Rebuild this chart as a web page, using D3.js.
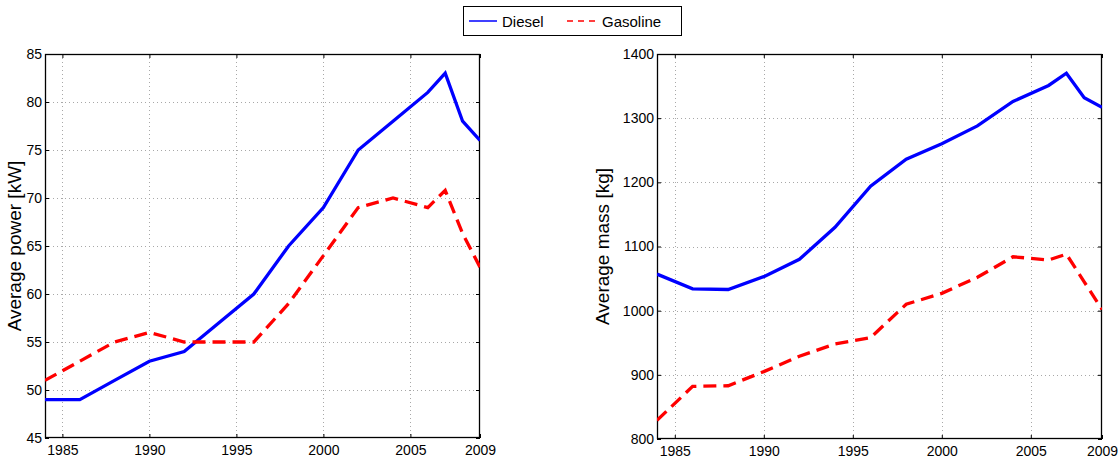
<!DOCTYPE html>
<html>
<head>
<meta charset="utf-8">
<script src="https://cdn.jsdelivr.net/npm/d3@7"></script>
<style>
  html, body { margin: 0; padding: 0; background: #fff; }
  svg { display: block; font-family: "Liberation Sans", Arial, Helvetica, sans-serif; }
</style>
</head>
<body>
<svg id="chart" width="1119" height="461"></svg>
<script>
// ---- data ----
const years = [1984, 1986, 1988, 1990, 1992, 1994, 1996, 1998, 2000, 2002, 2004, 2006, 2007, 2008, 2009];
const dieselPower   = [49, 49, 51, 53, 54, 57, 60, 65, 69, 75, 78, 81, 83, 78, 76];
const gasolinePower = [51, 53, 55, 56, 55, 55, 55, 59, 64, 69, 70, 69, 70.8, 66.3, 62.8];
const dieselMass    = [1057, 1034, 1033, 1053, 1080, 1130, 1194, 1236, 1260, 1288, 1326, 1351, 1370, 1332, 1317];
const gasolineMass  = [829, 882, 883, 905, 929, 948, 958, 1010, 1027, 1052, 1084, 1079, 1088, 1045, 1002];
const xTicks = [1985, 1990, 1995, 2000, 2005, 2009];
const powerTicks = [45, 50, 55, 60, 65, 70, 75, 80, 85];
const massTicks = [800, 900, 1000, 1100, 1200, 1300, 1400];
const seriesNames = ["Diesel", "Gasoline"];

const svg = d3.select("#chart");
const BLUE = "#0000ff", RED = "#ff0000";

function panel(id, left, right, top, bottom, yDomain, yTicks, dSeries, gSeries, label, labelX) {
  const x = d3.scaleLinear().domain([1984, 2009]).range([left, right]);
  const y = d3.scaleLinear().domain(yDomain).range([bottom, top]);
  const g = svg.append("g");

  svg.append("clipPath").attr("id", "clip" + id)
    .append("rect").attr("x", left).attr("y", top).attr("width", right - left).attr("height", bottom - top);

  // grid
  const grid = g.append("g").attr("stroke", "#a8a8a8").attr("stroke-width", 1).attr("stroke-dasharray", "1,3");
  xTicks.forEach(t => {
    if (t === 2009) return;
    grid.append("line").attr("x1", Math.round(x(t)) + 0.5).attr("x2", Math.round(x(t)) + 0.5)
      .attr("y1", top).attr("y2", bottom);
  });
  yTicks.forEach((t, i) => {
    if (i === 0 || i === yTicks.length - 1) return;
    grid.append("line").attr("y1", Math.round(y(t)) + 0.5).attr("y2", Math.round(y(t)) + 0.5)
      .attr("x1", left).attr("x2", right);
  });

  const fmt = d3.format("d");
  const axB = g.append("g").attr("transform", `translate(0,${bottom})`)
    .call(d3.axisBottom(x).tickValues(xTicks).tickFormat(fmt).tickSizeInner(-4).tickSizeOuter(0).tickPadding(7));
  const axT = g.append("g").attr("transform", `translate(0,${top})`)
    .call(d3.axisTop(x).tickValues(xTicks).tickFormat("").tickSizeInner(-4).tickSizeOuter(0));
  const axL = g.append("g").attr("transform", `translate(${left},0)`)
    .call(d3.axisLeft(y).tickValues(yTicks).tickFormat(fmt).tickSizeInner(-4).tickSizeOuter(0).tickPadding(3));
  const axR = g.append("g").attr("transform", `translate(${right},0)`)
    .call(d3.axisRight(y).tickValues(yTicks).tickFormat("").tickSizeInner(-4).tickSizeOuter(0));
  [axB, axT, axL, axR].forEach(a => {
    a.select(".domain").remove();
    a.selectAll("line").attr("stroke", "#000");
    a.selectAll("text").attr("font-size", 14).attr("fill", "#000")
      .attr("font-family", "'Liberation Sans', Arial, sans-serif");
  });

  // box
  g.append("rect").attr("x", left + 0.5).attr("y", top + 0.5)
    .attr("width", right - left - 1).attr("height", bottom - top - 1)
    .attr("fill", "none").attr("stroke", "#000").attr("stroke-width", 1.3);

  const line = d3.line().x((d, i) => x(years[i])).y(d => y(d));
  const lines = g.append("g").attr("clip-path", `url(#clip${id})`);
  lines.append("path").datum(dSeries).attr("d", line)
    .attr("fill", "none").attr("stroke", BLUE).attr("stroke-width", 3.3).attr("stroke-linejoin", "miter");
  lines.append("path").datum(gSeries).attr("d", line)
    .attr("fill", "none").attr("stroke", RED).attr("stroke-width", 3.3)
    .attr("stroke-dasharray", "13,7");

  // y label
  g.append("text").attr("transform", `translate(${labelX},${(top + bottom) / 2}) rotate(-90)`)
    .attr("text-anchor", "middle").attr("font-size", 19).attr("fill", "#000").text(label);
}

panel("L", 45, 480, 54, 438, [45, 85], powerTicks, dieselPower, gasolinePower, "Average power [kW]", 21);
panel("R", 657, 1102, 54, 439, [800, 1400], massTicks, dieselMass, gasolineMass, "Average mass [kg]", 609);

// legend
const lg = svg.append("g");
lg.append("rect").attr("x", 463.5).attr("y", 6.5).attr("width", 218).attr("height", 29)
  .attr("fill", "#fff").attr("stroke", "#000").attr("stroke-width", 1);
lg.append("line").attr("x1", 469).attr("x2", 497).attr("y1", 21).attr("y2", 21)
  .attr("stroke", BLUE).attr("stroke-width", 1.5);
lg.append("text").attr("x", 502).attr("y", 26.5).attr("font-size", 15).text(seriesNames[0]);
lg.append("line").attr("x1", 567).attr("x2", 596).attr("y1", 21).attr("y2", 21)
  .attr("stroke", RED).attr("stroke-width", 1.5).attr("stroke-dasharray", "6,5");
lg.append("text").attr("x", 602).attr("y", 26.5).attr("font-size", 15).text(seriesNames[1]);
</script>
</body>
</html>
